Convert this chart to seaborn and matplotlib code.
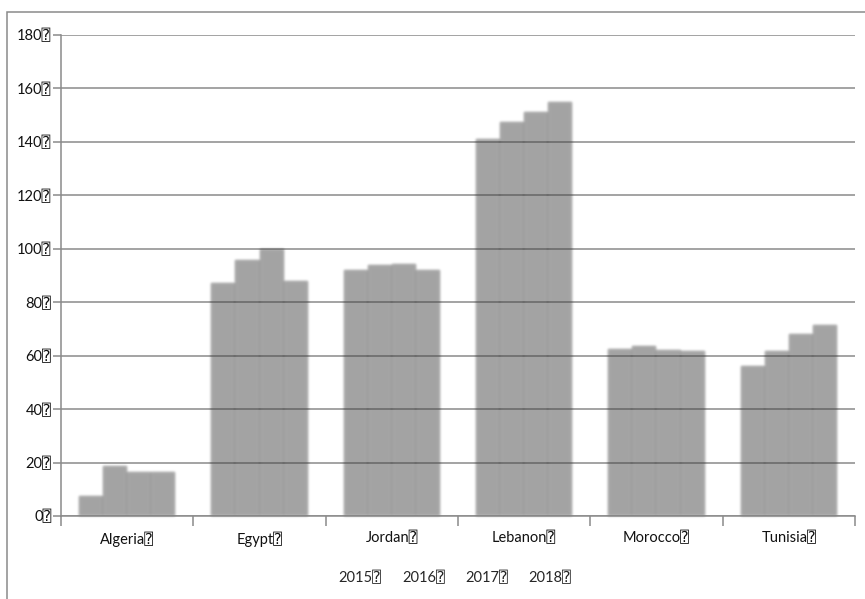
import matplotlib
matplotlib.use("Agg")
import matplotlib.pyplot as plt
from matplotlib.patches import Rectangle
from matplotlib.lines import Line2D
import seaborn as sns
import pandas as pd
import numpy as np

countries = ["Algeria", "Egypt", "Jordan", "Lebanon", "Morocco", "Tunisia"]
years = ["2015", "2016", "2017", "2018"]
v2015 = [7.5, 87.3, 92.0, 141.0, 62.4, 56.1]
v2016 = [18.8, 95.7, 93.8, 147.6, 63.8, 61.7]
v2017 = [16.5, 100.0, 94.2, 151.2, 62.0, 68.1]
v2018 = [16.5, 87.9, 92.1, 154.9, 61.6, 71.4]
y_ticks = [0, 20, 40, 60, 80, 100, 120, 140, 160, 180]
mark = "\u2370"

rows = []
for yr, vals in zip(years, [v2015, v2016, v2017, v2018]):
    for c, v in zip(countries, vals):
        rows.append({"country": c, "year": yr, "value": v})
df = pd.DataFrame(rows)


def soften(image, dpi, sigma=1.3):
    """Gaussian-soften a rendered artist image (separable kernel)."""
    pad = int(3 * sigma) + 1
    x = np.arange(-pad, pad + 1)
    k = np.exp(-0.5 * (x / sigma) ** 2)
    k /= k.sum()
    img = np.pad(image, ((pad, pad), (pad, pad), (0, 0)))
    img = np.apply_along_axis(lambda m: np.convolve(m, k, mode="same"), 0, img)
    img = np.apply_along_axis(lambda m: np.convolve(m, k, mode="same"), 1, img)
    return img, -pad, -pad


sns.set_style("white")
plt.rcParams["font.family"] = ["Lato", "DejaVu Sans", "DejaVu Sans Mono"]

W, H = 865, 599
fig = plt.figure(figsize=(W / 100, H / 100), dpi=100)
ax = fig.add_axes([61 / W, 1 - 516 / H, (855 - 61) / W, (516 - 35) / H])

grid_c = "#8a8a8a"
for t in y_ticks:
    ax.axhline(t, color=grid_c, lw=1.1, zorder=1)

sns.barplot(data=df, x="country", y="value", hue="year", order=countries,
            hue_order=years, palette=["#404040"] * 4, alpha=0.48,
            width=0.73, dodge=True, legend=False, linewidth=0,
            errorbar=None, ax=ax, zorder=2)
for p in ax.patches:
    p.set_agg_filter(soften)

ax.set_xlim(-0.5, 5.5)
ax.set_ylim(0, 180)
ax.set_yticks(y_ticks)
ax.set_yticklabels([f"{t}{mark}" for t in y_ticks])
ax.set_xticks(range(len(countries)))
ax.set_xticklabels([f"{c}{mark}" for c in countries])
ax.set_xticks([i - 0.5 for i in range(len(countries) + 1)], minor=True)
ax.tick_params(axis="x", which="major", length=0, pad=11, labelsize=10.5,
               colors="#111111")
ax.tick_params(axis="x", which="minor", length=7, width=1.1, color=grid_c,
               bottom=True)
ax.tick_params(axis="y", length=6, width=1.1, color=grid_c, pad=1,
               labelsize=10.5, colors="#111111", left=True)
ax.set_xlabel("")
ax.set_ylabel("")
for side in ["top", "right"]:
    ax.spines[side].set_visible(False)
for side in ["left", "bottom"]:
    ax.spines[side].set_color(grid_c)
    ax.spines[side].set_linewidth(1.1)

handles = [Line2D([], [], color="none") for _ in years]
fig.legend(handles, [f"{y}{mark}" for y in years], loc="center",
           bbox_to_anchor=(455 / W, 1 - 578 / H), ncol=4, frameon=False,
           handlelength=0, handletextpad=0, columnspacing=1.4, fontsize=10.5)

fig.patches.append(Rectangle((7 / W, -0.1), 1.2, 1.1 - 12 / H,
                             transform=fig.transFigure, fill=False,
                             edgecolor="#8a8a8a", lw=1.1))

fig.savefig("out.png", dpi=100)
